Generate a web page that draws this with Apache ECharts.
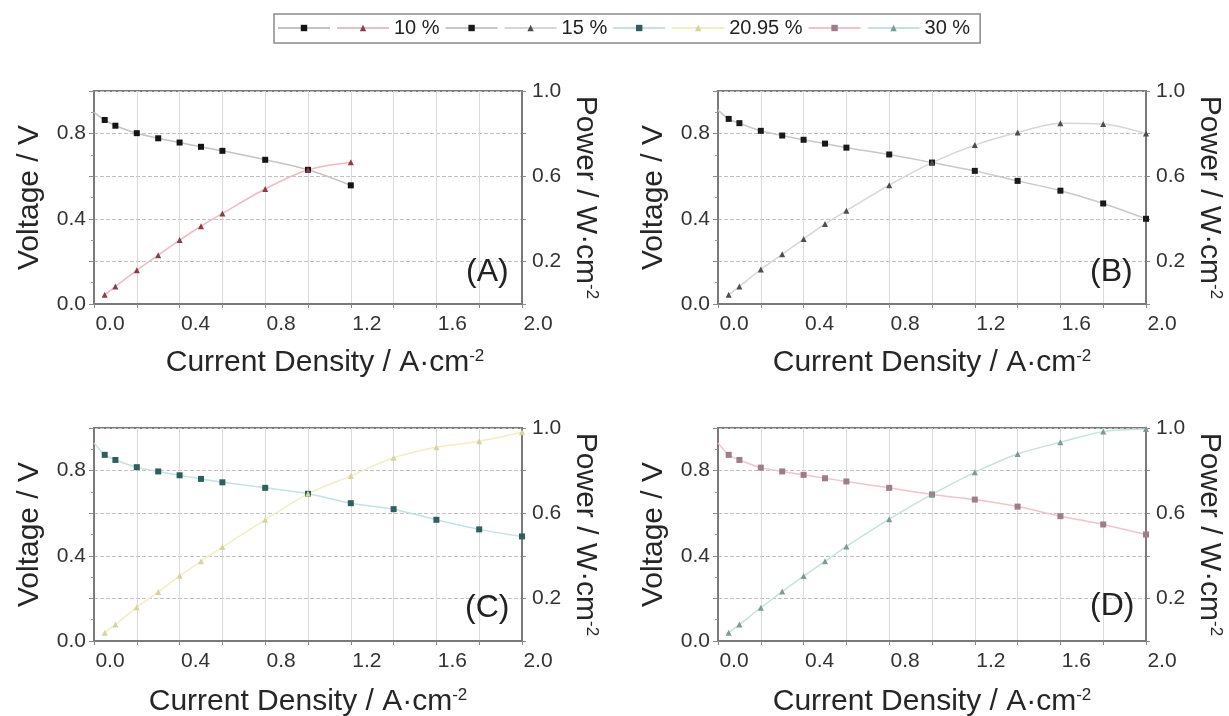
<!DOCTYPE html>
<html>
<head>
<meta charset="utf-8">
<script src="https://cdn.jsdelivr.net/npm/echarts@6/dist/echarts.min.js"></script>
<style>
html,body{margin:0;padding:0;background:#ffffff;}
#chart{width:1229px;height:716px;}
</style>
</head>
<body>
<div id="chart"></div>
<script>
// ---------- data ----------
const currentDensity = [0.05, 0.1, 0.2, 0.3, 0.4, 0.5, 0.6, 0.8, 1.0, 1.2, 1.4, 1.6, 1.8, 2.0];
const concentrations = ['10 %', '15 %', '20.95 %', '30 %'];
const panelLetters = ['(A)', '(B)', '(C)', '(D)'];
const xTickLabels = ['0.0', '0.4', '0.8', '1.2', '1.6', '2.0'];
const leftTickLabels = ['0.0', '0.4', '0.8'];
const rightTickLabels = ['0.2', '0.6', '1.0'];

const voltage10   = [0.864, 0.837, 0.802, 0.778, 0.758, 0.738, 0.719, 0.677, 0.630, 0.557];
const power10     = [0.043, 0.082, 0.158, 0.229, 0.300, 0.365, 0.425, 0.540, 0.630, 0.666];
const voltage15   = [0.869, 0.849, 0.813, 0.791, 0.771, 0.753, 0.734, 0.702, 0.664, 0.625, 0.578, 0.532, 0.472, 0.400];
const power15     = [0.043, 0.082, 0.162, 0.233, 0.305, 0.376, 0.438, 0.558, 0.664, 0.746, 0.805, 0.849, 0.845, 0.800];
const voltage2095 = [0.874, 0.850, 0.816, 0.796, 0.778, 0.761, 0.745, 0.719, 0.691, 0.647, 0.619, 0.569, 0.524, 0.491];
const power2095   = [0.039, 0.077, 0.159, 0.230, 0.306, 0.374, 0.441, 0.569, 0.691, 0.775, 0.860, 0.910, 0.938, 0.980];
const voltage30   = [0.874, 0.850, 0.814, 0.796, 0.780, 0.764, 0.749, 0.719, 0.688, 0.664, 0.631, 0.586, 0.547, 0.500];
const power30     = [0.039, 0.077, 0.156, 0.232, 0.305, 0.374, 0.444, 0.572, 0.688, 0.792, 0.878, 0.933, 0.983, 0.995];
// value where each fitted voltage curve meets the left axis (j = 0)
const voltageFitAtZero = [0.90, 0.91, 0.93, 0.93];

const voltageSets = [voltage10, voltage15, voltage2095, voltage30];
const powerSets = [power10, power15, power2095, power30];

// ---------- styles ----------
const FONT = '"Liberation Sans", Arial, Helvetica, sans-serif';
const TXT = '#262626';
const styles = [
  { vMark: '#141414', vLine: '#c4c4c4', pMark: '#8a3c48', pLine: '#f1b9c2' },
  { vMark: '#1a1a1a', vLine: '#c8c8c8', pMark: '#4d4d4d', pLine: '#d6d6d6' },
  { vMark: '#2f5f5c', vLine: '#bfe5e1', pMark: '#d6d49c', pLine: '#f1efc2' },
  { vMark: '#9c7d88', vLine: '#f2c3cb', pMark: '#7c9a96', pLine: '#c4e3dd' }
];
const grids = [
  { left: 94, top: 91, width: 428, height: 213 },
  { left: 718, top: 91, width: 428, height: 213 },
  { left: 94, top: 428, width: 428, height: 213 },
  { left: 718, top: 428, width: 428, height: 213 }
];
const letterPos = [
  { left: 466, top: 256 },
  { left: 1090, top: 256 },
  { left: 465, top: 592 },
  { left: 1090, top: 590 }
];
const xNameGap = [44, 44, 46, 46];
const xNamePad = [[0, 0, 0, 34], [0, 0, 0, 0], [0, 0, 0, 0], [0, 0, 0, 0]];

const vName = c => c + ' ';   // voltage series (legend shows only the symbol)

function xFmt(v) {
  const k = Math.round(v * 10);
  return k % 4 === 0 ? xTickLabels[k / 4] : '';
}
function leftFmt(v) {
  const k = Math.round(v * 10);
  return k % 4 === 0 ? leftTickLabels[k / 4] : '';
}
function rightFmt(v) {
  const k = Math.round(v * 10);
  return (k - 2) % 4 === 0 && k >= 2 ? rightTickLabels[(k - 2) / 4] : '';
}

const gridOpt = [], xAxes = [], yAxes = [], series = [], titles = [];
const frame = '#7a7a7a';

grids.forEach((g, i) => {
  gridOpt.push(Object.assign({
    show: true, borderColor: frame, borderWidth: 2, backgroundColor: '#ffffff',
    containLabel: false, outerBoundsMode: 'none'
  }, g));

  xAxes.push({
    type: 'value', gridIndex: i, min: 0, max: 2, interval: 0.2,
    name: '{a|Current Density / A·cm}{s|-2}',
    nameLocation: 'middle', nameGap: xNameGap[i],
    nameTextStyle: {
      padding: xNamePad[i],
      rich: {
        a: { fontSize: 30, lineHeight: 30, color: TXT, fontFamily: FONT },
        s: { fontSize: 17, lineHeight: 14, verticalAlign: 'top', color: TXT, fontFamily: FONT }
      }
    },
    axisLine: { show: true, onZero: false, lineStyle: { color: frame, width: 2 } },
    axisTick: { show: true, length: 4, lineStyle: { color: '#8a8a8a' } },
    axisLabel: {
      formatter: xFmt, fontSize: 21, color: '#333', fontFamily: FONT, margin: 10,
      padding: [0, 0, 0, 32], showMinLabel: true, showMaxLabel: true, hideOverlap: false
    },
    splitLine: { show: true, lineStyle: { color: '#dadada', width: 1 } }
  });

  yAxes.push({
    type: 'value', gridIndex: i, position: 'left', min: 0, max: 1, interval: 0.2,
    name: 'Voltage / V', nameLocation: 'middle', nameGap: 49,
    nameTextStyle: { fontSize: 30, lineHeight: 30, color: TXT, fontFamily: FONT },
    axisLine: { show: true, onZero: false, lineStyle: { color: frame, width: 2 } },
    axisTick: { show: true, length: 5, lineStyle: { color: '#8a8a8a' } },
    minorTick: { show: true, splitNumber: 2, length: 3, lineStyle: { color: '#9a9a9a' } },
    axisLabel: { formatter: leftFmt, fontSize: 21, color: '#333', fontFamily: FONT, margin: 8,
      showMinLabel: true, showMaxLabel: true, hideOverlap: false },
    splitLine: { show: true, lineStyle: { color: '#c2c2c2', width: 1, type: [4, 2] } }
  });

  yAxes.push({
    type: 'value', gridIndex: i, position: 'right', min: 0, max: 1, interval: 0.2,
    name: '{a|Power / W·cm}{s|-2}', nameLocation: 'middle', nameGap: 48, nameRotate: -90,
    nameTextStyle: {
      rich: {
        a: { fontSize: 30, lineHeight: 30, color: TXT, fontFamily: FONT },
        s: { fontSize: 17, lineHeight: 14, verticalAlign: 'top', color: TXT, fontFamily: FONT }
      }
    },
    axisLine: { show: true, onZero: false, lineStyle: { color: frame, width: 2 } },
    axisTick: { show: true, length: 4, lineStyle: { color: '#8a8a8a' } },
    axisLabel: { formatter: rightFmt, fontSize: 21, color: '#333', fontFamily: FONT, margin: 10,
      showMinLabel: true, showMaxLabel: true, hideOverlap: false },
    splitLine: { show: false }
  });

  const st = styles[i];
  const vData = [{ value: [0, voltageFitAtZero[i]], symbol: 'none' }]
    .concat(voltageSets[i].map((v, k) => [currentDensity[k], v]));
  const pData = powerSets[i].map((p, k) => [currentDensity[k], p]);

  series.push({
    name: vName(concentrations[i]), type: 'line', xAxisIndex: i, yAxisIndex: 2 * i,
    data: vData, smooth: 0.3, symbol: 'rect', symbolSize: 6, showAllSymbol: true,
    lineStyle: { color: st.vLine, width: 1.5 }, itemStyle: { color: st.vMark },
    emphasis: { disabled: true }, z: 3
  });
  series.push({
    name: concentrations[i], type: 'line', xAxisIndex: i, yAxisIndex: 2 * i + 1,
    data: pData, smooth: 0.3, symbol: 'triangle', symbolSize: 6, showAllSymbol: true,
    lineStyle: { color: st.pLine, width: 1.5 }, itemStyle: { color: st.pMark },
    emphasis: { disabled: true }, z: 3
  });

  titles.push({
    text: panelLetters[i], left: letterPos[i].left, top: letterPos[i].top, padding: 0,
    textStyle: { fontSize: 32, fontWeight: 'normal', color: '#222', fontFamily: FONT }
  });
});

const legendData = [];
concentrations.forEach(c => { legendData.push(vName(c)); legendData.push(c); });

const option = {
  animation: false,
  backgroundColor: '#ffffff',
  title: titles,
  grid: gridOpt,
  xAxis: xAxes,
  yAxis: yAxes,
  legend: {
    left: 274, top: 14, orient: 'horizontal',
    padding: [4, 10, 5, 3],
    itemWidth: 52, itemHeight: 8, itemGap: 5,
    borderColor: '#8a8a8a', borderWidth: 1.5, borderRadius: 0,
    selectedMode: false,
    data: legendData,
    formatter: function (name) {
      if (name.endsWith(' ')) return '';
      return name === concentrations[concentrations.length - 1] ? '{u|' + name + '}' : '{t|' + name + '}';
    },
    textStyle: {
      fontSize: 20, color: '#222', fontFamily: FONT,
      rich: {
        t: { fontSize: 20, color: '#222', fontFamily: FONT, padding: [0, 16, 0, 0] },
        u: { fontSize: 20, color: '#222', fontFamily: FONT }
      }
    }
  },
  series: series
};

const chart = echarts.init(document.getElementById('chart'), null, { renderer: 'canvas' });
chart.setOption(option);
</script>
</body>
</html>
